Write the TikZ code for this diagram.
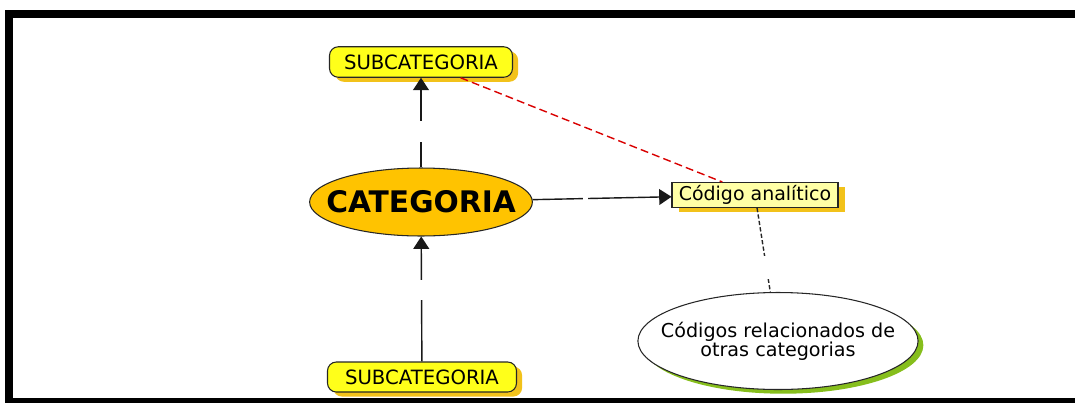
\documentclass[tikz,border=0pt]{standalone}
\usepackage{fontspec}
\setmainfont{DejaVu Sans}
\usetikzlibrary{shapes.geometric,shadows,arrows.meta}
\definecolor{subyellow}{HTML}{FFFF1A}
\definecolor{catgold}{HTML}{FFC300}
\definecolor{shadegold}{HTML}{F2C21A}
\definecolor{codyellow}{HTML}{FFFFA6}
\definecolor{relgreen}{HTML}{86BE1C}
\begin{document}
\begin{tikzpicture}[x=0.02cm,y=-0.02cm,
  subbox/.style={draw=black!85,semithick,fill=subyellow,rounded corners=5pt,minimum width=3.66cm,minimum height=0.61cm,
    font=\fontsize{11.2}{13}\selectfont,general shadow={fill=shadegold,shadow xshift=3.2pt,shadow yshift=-2.6pt}},
  conn/.style={thick,black!90,-{Triangle[width=9pt,length=7pt]}},
  gap/.style={fill=white,inner sep=0pt,minimum width=#1,minimum height=#1},
  gap/.default=0.42cm]
\useasboundingbox (0,0) rectangle (1075,403);
\fill (5,10) rectangle (1075,18);
\fill (5,10) rectangle (13,403);
\fill (13,398) rectangle (1075,403);
\node[subbox] (sub1) at (421,62) {SUBCATEGORIA};
\node[subbox,minimum width=3.78cm,minimum height=0.6cm] (sub2) at (422,377) {SUBCATEGORIA};
\node[ellipse,draw=black!85,semithick,fill=catgold,minimum width=4.42cm,minimum height=1.36cm,inner xsep=-0.32cm,inner ysep=0pt,
  font=\bfseries\fontsize{16.9}{20}\selectfont] (cat) at (421,202) {CATEGORIA};
\node[draw=black!85,semithick,fill=codyellow,minimum width=3.32cm,minimum height=0.5cm,inner sep=1pt,
  font=\fontsize{10.8}{12}\selectfont,general shadow={fill=shadegold,shadow xshift=3.8pt,shadow yshift=-2.8pt}]
  (cod) at (755,195) {Código analítico};
\node[ellipse,draw=black!85,semithick,fill=white,minimum width=5.6cm,minimum height=1.94cm,inner xsep=-0.36cm,inner ysep=0pt,align=center,
  font=\fontsize{10.9}{11}\selectfont,general shadow={fill=relgreen,shadow xshift=3pt,shadow yshift=-2.4pt}]
  (rel) at (778,341) {Códigos relacionados de\\otras categorias};
\draw[conn] (cat) -- node[gap,pos=0.4]{} (sub1);
\draw[conn] (sub2) -- node[gap=0.4cm,pos=0.57]{} (cat);
\draw[conn] (cat) -- node[gap=0.1cm,pos=0.38]{} (cod);
\draw[thick,red!85!black,dash pattern=on 4.5pt off 2.4pt] (sub1) -- (cod);
\draw[thick,black!85,dash pattern=on 2.4pt off 1.3pt] (cod) -- node[gap=0.46cm,pos=0.71]{} (rel);
\end{tikzpicture}
\end{document}
